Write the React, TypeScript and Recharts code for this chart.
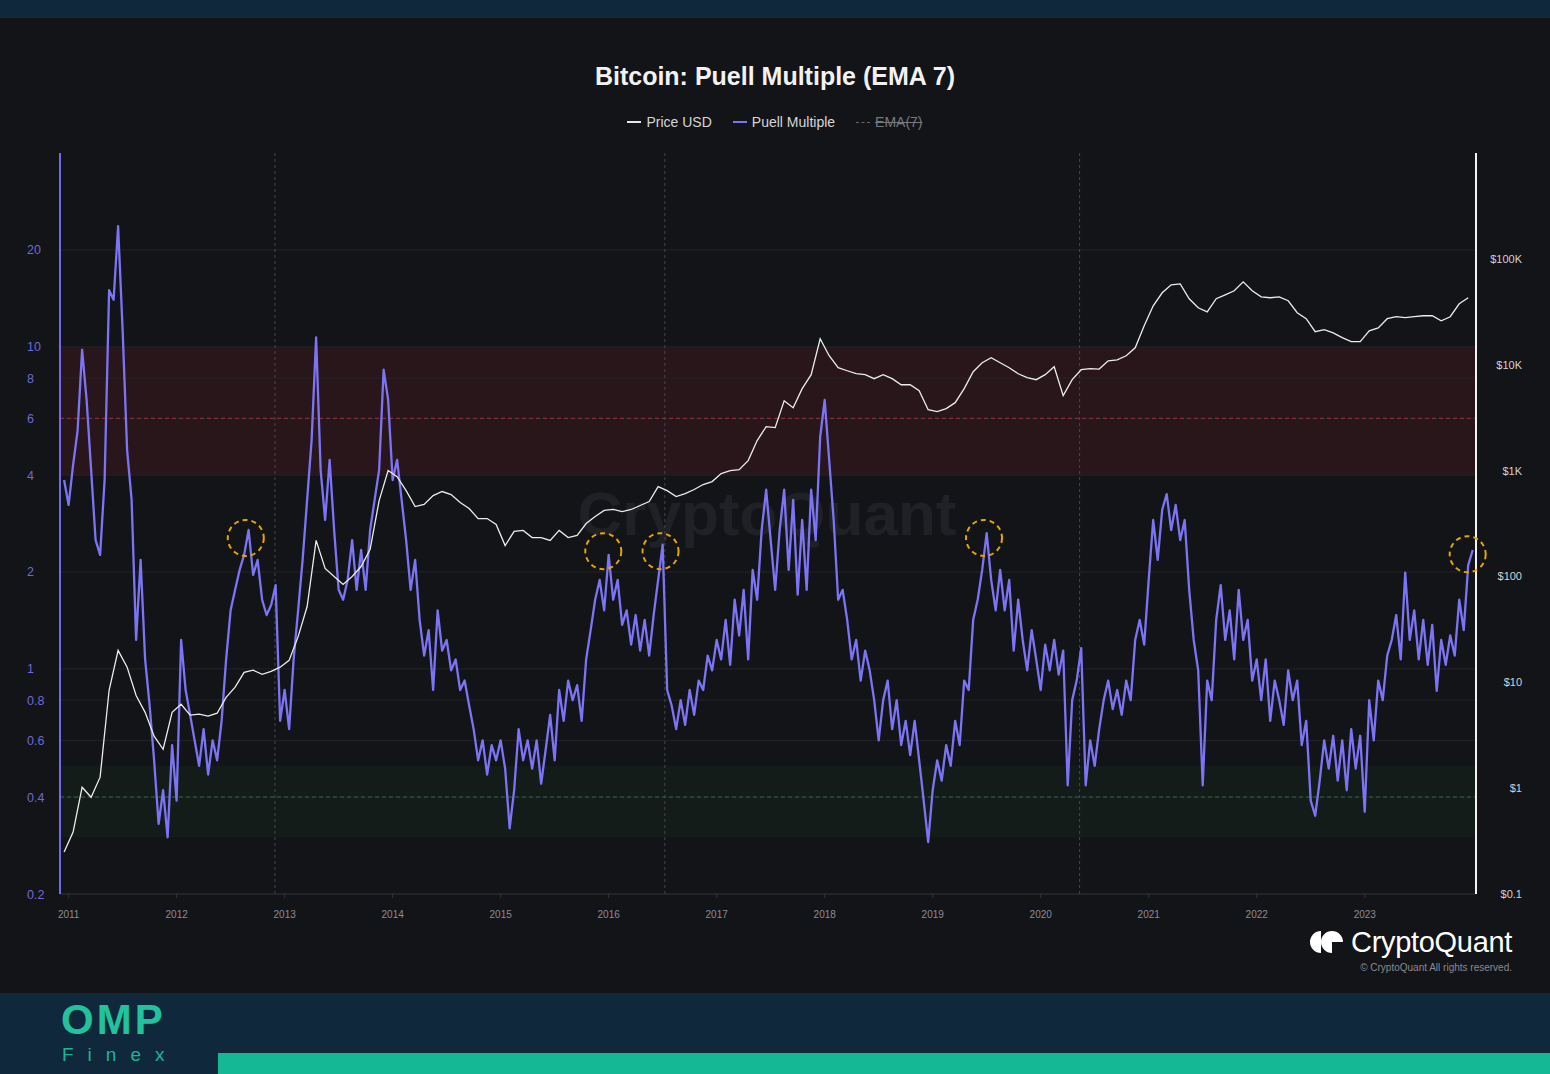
import {
  ComposedChart,
  Line,
  XAxis,
  YAxis,
  ReferenceArea,
  ReferenceLine,
  ReferenceDot
} from "recharts"

// half-month steps for the Puell Multiple, monthly steps for price
const START = 2010.958

const puellHead = [3.86]
const puell2011 = [3.23, 4.3, 5.5, 9.8, 6.85, 4.15, 2.51, 2.26, 3.86, 15.0, 14.0, 23.7, 11.3, 4.78, 3.35, 1.23, 2.18, 1.07, 0.77, 0.52, 0.33, 0.42, 0.3, 0.58]
const puell2012 = [0.39, 1.23, 0.86, 0.72, 0.6, 0.5, 0.65, 0.47, 0.6, 0.52, 0.69, 1.07, 1.52, 1.76, 2.03, 2.26, 2.7, 1.96, 2.18, 1.64, 1.47, 1.58, 1.82, 0.69]
const puell2013 = [0.86, 0.65, 1.07, 1.52, 2.18, 3.35, 5.14, 10.7, 4.15, 2.9, 4.46, 2.7, 1.76, 1.64, 1.89, 2.51, 1.76, 2.34, 1.76, 2.7, 3.35, 4.15, 8.5, 6.85]
const puell2014 = [3.86, 4.46, 3.35, 2.51, 1.76, 2.18, 1.42, 1.1, 1.32, 0.86, 1.52, 1.14, 1.23, 0.99, 1.07, 0.86, 0.92, 0.77, 0.65, 0.52, 0.6, 0.47, 0.58, 0.52]
const puell2015 = [0.6, 0.49, 0.32, 0.42, 0.65, 0.52, 0.6, 0.49, 0.6, 0.44, 0.56, 0.72, 0.52, 0.86, 0.69, 0.92, 0.8, 0.89, 0.69, 1.07, 1.32, 1.64, 1.89, 1.52]
const puell2016 = [2.26, 1.64, 1.89, 1.37, 1.52, 1.19, 1.47, 1.14, 1.42, 1.1, 1.47, 1.89, 2.43, 0.86, 0.77, 0.65, 0.8, 0.67, 0.86, 0.72, 0.92, 0.86, 1.1, 0.99]
const puell2017 = [1.23, 1.07, 1.42, 1.03, 1.64, 1.27, 1.76, 1.07, 2.03, 1.64, 2.7, 3.6, 2.51, 1.76, 2.7, 3.6, 2.03, 3.35, 1.7, 2.9, 1.76, 3.6, 2.51, 5.25]
const puell2018 = [6.85, 4.46, 2.9, 1.64, 1.76, 1.42, 1.07, 1.23, 0.92, 1.14, 0.99, 0.8, 0.6, 0.8, 0.92, 0.65, 0.8, 0.58, 0.69, 0.54, 0.69, 0.52, 0.39, 0.29]
const puell2019 = [0.42, 0.52, 0.45, 0.58, 0.5, 0.69, 0.58, 0.92, 0.86, 1.42, 1.64, 2.03, 2.64, 1.89, 1.52, 2.03, 1.52, 1.89, 1.14, 1.64, 1.23, 0.99, 1.32, 1.07]
const puell2020 = [0.86, 1.19, 0.99, 1.23, 0.96, 1.14, 0.435, 0.8, 0.92, 1.16, 0.435, 0.6, 0.5, 0.65, 0.8, 0.92, 0.75, 0.86, 0.72, 0.92, 0.8, 1.23, 1.42, 1.19]
const puell2021 = [1.89, 2.9, 2.18, 3.12, 3.49, 2.7, 3.23, 2.51, 2.9, 1.76, 1.23, 0.99, 0.435, 0.92, 0.8, 1.42, 1.82, 1.23, 1.52, 1.07, 1.76, 1.23, 1.42, 0.92]
const puell2022 = [1.07, 0.8, 1.07, 0.69, 0.92, 0.8, 0.67, 0.99, 0.8, 0.92, 0.58, 0.69, 0.39, 0.35, 0.45, 0.6, 0.49, 0.62, 0.45, 0.6, 0.42, 0.65, 0.49, 0.62]
const puell2023 = [0.36, 0.8, 0.6, 0.92, 0.8, 1.1, 1.23, 1.47, 1.07, 1.99, 1.23, 1.52, 1.07, 1.42, 1.03, 1.37, 0.855, 1.23, 1.03, 1.27, 1.1, 1.64, 1.32, 2.1, 2.34]

const priceHead = [0.249]
const price2011 = [0.385, 1.02, 0.82, 1.27, 8.4, 20, 13.9, 7.5, 5.2, 3.1, 2.33, 5.2]
const price2012 = [6.2, 4.9, 5.0, 4.8, 5.1, 7.2, 9.0, 12.4, 13.0, 11.9, 12.7, 13.9]
const price2013 = [16.1, 27, 52, 219, 119, 100, 84, 100, 124, 180, 521, 1000]
const price2014 = [877, 647, 457, 478, 581, 634, 594, 499, 438, 352, 352, 310]
const price2015 = [196, 266, 272, 233, 233, 219, 272, 233, 244, 316, 368, 420]
const price2016 = [429, 410, 429, 468, 510, 706, 647, 569, 607, 662, 738, 787]
const price2017 = [937, 1000, 1020, 1242, 1919, 2602, 2547, 4571, 3929, 5938, 8050, 17600]
const price2018 = [12160, 9370, 8770, 8220, 8050, 7380, 8050, 7380, 6470, 6470, 5690, 3760]
const price2019 = [3600, 3850, 4380, 5938, 8590, 10440, 11640, 10440, 9370, 8220, 7540, 7220]
const price2020 = [8050, 9570, 5100, 7220, 8970, 9200, 9100, 10900, 11100, 12160, 14450, 23300]
const price2021 = [36000, 47800, 56900, 58100, 42000, 34500, 31600, 42000, 45700, 49900, 60700, 49900]
const price2022 = [43800, 42900, 43800, 40200, 31000, 27200, 20500, 21400, 20000, 18000, 16500, 16500]
const price2023 = [20900, 22300, 27200, 28400, 27800, 28400, 29000, 29000, 26000, 28400, 37600, 42900]

const yearTicks = [2011, 2012, 2013, 2014, 2015, 2016, 2017, 2018, 2019, 2020, 2021, 2022, 2023]
const puellTicks = [0.2, 0.4, 0.6, 0.8, 1, 2, 4, 6, 8, 10, 20]
const priceTicks = [0.1, 1, 10, 100, 1000, 10000, 100000]
const priceLabels = ["$0.1", "$1", "$10", "$100", "$1K", "$10K", "$100K"]
const halvings = [2012.91, 2016.52, 2020.36]
const circledDates = [2012.64, 2015.95, 2016.48, 2019.475, 2023.953]
const circledValues = [2.55, 2.32, 2.32, 2.55, 2.27]

const puellAll = [
  ...puellHead, ...puell2011, ...puell2012, ...puell2013, ...puell2014, ...puell2015, ...puell2016,
  ...puell2017, ...puell2018, ...puell2019, ...puell2020, ...puell2021, ...puell2022, ...puell2023
]
const priceAll = [
  ...priceHead, ...price2011, ...price2012, ...price2013, ...price2014, ...price2015, ...price2016,
  ...price2017, ...price2018, ...price2019, ...price2020, ...price2021, ...price2022, ...price2023
]

const rows = puellAll.map((v, i) => ({
  t: START + i / 24,
  puell: v,
  price: i % 2 === 0 ? priceAll[i / 2] : undefined
}))

const FONT = "'Liberation Sans', Arial, sans-serif"

const LeftTick = ({ y, payload }: any) => (
  <text x={27} y={y} dy={4.5} fill="#6e68d9" fontSize={12.5} fontFamily={FONT}>
    {payload.value}
  </text>
)

const RightTick = ({ y, payload }: any) => (
  <text x={1522} y={y} dy={4} textAnchor="end" fill="#d2d2d6" fontSize={11} fontFamily={FONT}>
    {priceLabels[priceTicks.indexOf(payload.value)]}
  </text>
)

const YearTick = ({ x, y, payload }: any) => (
  <text x={x} y={y} dy={18} textAnchor="middle" fill="#8c8c94" fontSize={10} fontFamily={FONT}>
    {payload.value}
  </text>
)

function LegendItem({ color, label, dashed, muted }: any) {
  return (
    <div style={{ display: "flex", alignItems: "center", gap: 5 }}>
      <div
        style={{
          width: 14,
          height: 0,
          borderTop: `${dashed ? 1 : 2}px ${dashed ? "dashed" : "solid"} ${color}`
        }}
      />
      <span style={{ color: muted ? "#77777d" : "#d6d6da", textDecoration: muted ? "line-through" : "none" }}>
        {label}
      </span>
    </div>
  )
}

export default function App() {
  return (
    <div
      style={{
        position: "absolute",
        left: 0,
        top: 0,
        width: 1550,
        height: 1074,
        background: "#131417",
        overflow: "hidden",
        fontFamily: FONT
      }}
    >
      <div style={{ position: "absolute", left: 0, top: 0, width: 1550, height: 18, background: "#0f283b" }} />

      <div
        style={{
          position: "absolute",
          top: 62,
          left: 0,
          width: 1550,
          textAlign: "center",
          color: "#f2f2f4",
          fontSize: 25,
          fontWeight: 700
        }}
      >
        Bitcoin: Puell Multiple (EMA 7)
      </div>

      <div
        style={{
          position: "absolute",
          top: 114,
          left: 0,
          width: 1550,
          display: "flex",
          justifyContent: "center",
          gap: 21,
          fontSize: 14
        }}
      >
        <LegendItem color="#e6e6e6" label="Price USD" />
        <LegendItem color="#7c74f4" label="Puell Multiple" />
        <LegendItem color="#66666c" label="EMA(7)" dashed muted />
      </div>

      <div
        style={{
          position: "absolute",
          top: 478,
          left: 0,
          width: 1534,
          textAlign: "center",
          color: "#202126",
          fontSize: 62,
          fontWeight: 700
        }}
      >
        CryptoQuant
      </div>

      <div style={{ position: "absolute", left: 0, top: 0 }}>
        <ComposedChart width={1550} height={1074} data={rows} margin={{ top: 153, right: 0, bottom: 150, left: 0 }}>
          <XAxis
            dataKey="t"
            type="number"
            domain={[2010.92, 2024.03]}
            allowDataOverflow
            ticks={yearTicks}
            tick={<YearTick />}
            tickSize={4}
            height={30}
            stroke="#34353c"
          />
          <YAxis
            yAxisId="left"
            scale="log"
            domain={[0.2, 40]}
            allowDataOverflow
            ticks={puellTicks}
            tick={<LeftTick />}
            tickLine={false}
            width={60}
            axisLine={{ stroke: "#7468f0", strokeWidth: 2 }}
          />
          <YAxis
            yAxisId="right"
            orientation="right"
            scale="log"
            domain={[0.1, 1000000]}
            allowDataOverflow
            ticks={priceTicks}
            tick={<RightTick />}
            tickLine={false}
            width={74}
            axisLine={{ stroke: "#f2f2f2", strokeWidth: 2 }}
          />

          {puellTicks.slice(1).map((v) => (
            <ReferenceLine key={"g" + v} yAxisId="left" y={v} stroke="#23242a" strokeWidth={1} />
          ))}

          <ReferenceArea yAxisId="left" y1={4} y2={10} fill="#e0303c" fillOpacity={0.1} stroke="none" />
          <ReferenceArea yAxisId="left" y1={0.3} y2={0.5} fill="#2fae5a" fillOpacity={0.06} stroke="none" />
          <ReferenceLine yAxisId="left" y={6} stroke="#9a3440" strokeDasharray="4 3" />
          <ReferenceLine yAxisId="left" y={0.4} stroke="#2e6a45" strokeDasharray="4 3" />

          {halvings.map((d) => (
            <ReferenceLine key={"h" + d} yAxisId="left" x={d} stroke="#45464e" strokeDasharray="3 3" />
          ))}

          <Line
            yAxisId="left"
            dataKey="puell"
            type="linear"
            stroke="#7c74f4"
            strokeWidth={2.3}
            strokeLinejoin="round"
            dot={false}
            isAnimationActive={false}
          />
          <Line
            yAxisId="right"
            dataKey="price"
            type="linear"
            stroke="#ececec"
            strokeWidth={1.3}
            dot={false}
            connectNulls
            isAnimationActive={false}
          />

          {circledDates.map((d, i) => (
            <ReferenceDot
              key={"c" + d}
              yAxisId="left"
              x={d}
              y={circledValues[i]}
              r={18}
              fill="none"
              stroke="#e3a50b"
              strokeWidth={2}
              strokeDasharray="5 4"
              ifOverflow="visible"
            />
          ))}
        </ComposedChart>
      </div>

      <div style={{ position: "absolute", left: 1309, top: 929, display: "flex", alignItems: "center", gap: 8 }}>
        <svg width={34} height={24} viewBox="0 0 34 24">
          <path d="M 12 1 A 11 11 0 0 0 12 23 Z" fill="#ffffff" />
          <path d="M 23 12 L 23 23 A 11 11 0 1 1 34 12 Z" fill="#ffffff" />
        </svg>
        <span style={{ color: "#ffffff", fontSize: 29, lineHeight: "26px", letterSpacing: -0.3 }}>CryptoQuant</span>
      </div>
      <div
        style={{
          position: "absolute",
          right: 38,
          top: 962,
          color: "#8a8a90",
          fontSize: 10
        }}
      >
        © CryptoQuant All rights reserved.
      </div>

      <div style={{ position: "absolute", left: 0, top: 993, width: 1550, height: 81, background: "#0f283b" }} />
      <div style={{ position: "absolute", left: 218, top: 1053, width: 1332, height: 21, background: "#15b894" }} />
      <svg style={{ position: "absolute", left: 0, top: 993 }} width={218} height={81}>
        <text x={61} y={41} fill="#22c29d" fontSize={42} fontWeight={900} letterSpacing={3} fontFamily={FONT}>
          OMP
        </text>
        <text x={62} y={68} fill="#1fb495" fontSize={19} letterSpacing={14} fontFamily={FONT}>
          Finex
        </text>
      </svg>
    </div>
  )
}
